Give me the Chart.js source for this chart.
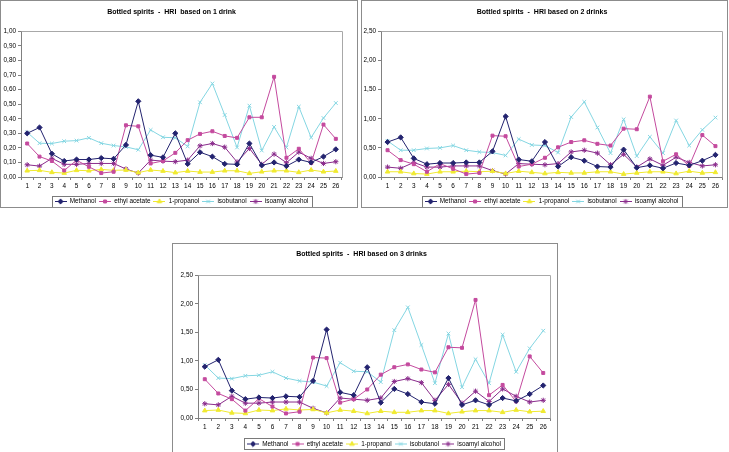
<!DOCTYPE html>
<html>
<head>
<meta charset="utf-8">
<script src="https://cdn.jsdelivr.net/npm/chart.js@4.4.1/dist/chart.umd.min.js"></script>
<style>
  body { margin: 0; background: #fff; width: 729px; height: 452px; position: relative; overflow: hidden; }
  .box { position: absolute; border: 1px solid #8c8c8c; box-sizing: border-box; background: #fff; }
  .box canvas { position: absolute; left: 0; top: 0; }
</style>
</head>
<body>
<div class="box" style="left:0px;top:0px;width:358px;height:208px"><canvas id="c1" width="356" height="206"></canvas></div>
<div class="box" style="left:361px;top:0px;width:367px;height:208px"><canvas id="c2" width="365" height="206"></canvas></div>
<div class="box" style="left:172px;top:243px;width:386px;height:212px"><canvas id="c3" width="384" height="210"></canvas></div>
<script>
const categories = ["1","2","3","4","5","6","7","8","9","10","11","12","13","14","15","16","17","18","19","20","21","22","23","24","25","26"];
const seriesNames = ["Methanol", "ethyl acetate", "1-propanol", "isobutanol", "isoamyl alcohol"];

// HRI based on 1 drink
const methanol1 = [0.30,0.34,0.16,0.11,0.12,0.12,0.13,0.125,0.22,0.52,0.15,0.135,0.30,0.09,0.17,0.14,0.09,0.087,0.23,0.08,0.10,0.075,0.12,0.10,0.14,0.19];
const ethylAcetate1 = [0.23,0.14,0.11,0.045,0.115,0.07,0.027,0.036,0.355,0.348,0.093,0.11,0.166,0.253,0.296,0.314,0.282,0.269,0.41,0.41,0.688,0.132,0.194,0.096,0.36,0.262];
const propanol1 = [0.043,0.046,0.032,0.027,0.046,0.043,0.052,0.046,0.048,0.03,0.048,0.041,0.03,0.041,0.034,0.034,0.043,0.043,0.025,0.036,0.043,0.043,0.032,0.048,0.036,0.041];
const isobutanol1 = [0.307,0.232,0.23,0.246,0.25,0.269,0.232,0.216,0.207,0.187,0.323,0.273,0.269,0.21,0.513,0.642,0.426,0.203,0.49,0.182,0.344,0.203,0.483,0.271,0.405,0.508];
const isoamyl1 = [0.084,0.075,0.128,0.087,0.087,0.093,0.093,0.093,0.055,0.027,0.116,0.109,0.105,0.116,0.214,0.23,0.205,0.103,0.196,0.087,0.157,0.098,0.171,0.128,0.093,0.105];

// HRI based on 2 drinks
const methanol2 = [0.60,0.68,0.32,0.22,0.24,0.24,0.25,0.25,0.44,1.04,0.30,0.27,0.60,0.18,0.34,0.28,0.18,0.17,0.47,0.16,0.20,0.15,0.24,0.20,0.28,0.38];
const ethylAcetate2 = [0.46,0.29,0.22,0.09,0.23,0.14,0.05,0.07,0.71,0.70,0.18,0.22,0.33,0.51,0.60,0.63,0.57,0.54,0.83,0.82,1.38,0.27,0.39,0.19,0.72,0.53];
const propanol2 = [0.09,0.09,0.06,0.05,0.09,0.09,0.10,0.09,0.10,0.06,0.10,0.08,0.06,0.08,0.07,0.07,0.09,0.09,0.05,0.07,0.09,0.09,0.06,0.10,0.07,0.08];
const isobutanol2 = [0.62,0.46,0.46,0.49,0.50,0.54,0.46,0.43,0.42,0.37,0.65,0.55,0.54,0.42,1.03,1.29,0.85,0.41,0.99,0.36,0.69,0.41,0.97,0.54,0.81,1.02];
const isoamyl2 = [0.17,0.15,0.25,0.17,0.17,0.19,0.19,0.19,0.11,0.05,0.23,0.22,0.21,0.23,0.43,0.46,0.41,0.21,0.39,0.17,0.31,0.20,0.34,0.25,0.19,0.21];

// HRI based on 3 drinks
const methanol3 = [0.90,1.02,0.48,0.33,0.36,0.35,0.38,0.37,0.65,1.55,0.45,0.40,0.89,0.27,0.51,0.42,0.28,0.25,0.70,0.23,0.31,0.23,0.35,0.30,0.42,0.57];
const ethylAcetate3 = [0.68,0.43,0.33,0.13,0.34,0.20,0.08,0.11,1.06,1.05,0.27,0.33,0.50,0.76,0.89,0.94,0.85,0.80,1.24,1.23,2.07,0.40,0.58,0.29,1.08,0.79];
const propanol3 = [0.13,0.14,0.09,0.08,0.14,0.13,0.16,0.14,0.15,0.09,0.14,0.12,0.08,0.12,0.10,0.10,0.13,0.13,0.08,0.11,0.13,0.13,0.10,0.14,0.11,0.12];
const isobutanol3 = [0.93,0.70,0.69,0.74,0.75,0.81,0.70,0.65,0.63,0.56,0.97,0.82,0.81,0.63,1.54,1.94,1.28,0.61,1.48,0.54,1.03,0.61,1.46,0.81,1.22,1.53];
const isoamyl3 = [0.25,0.23,0.38,0.26,0.26,0.28,0.28,0.28,0.17,0.09,0.35,0.33,0.31,0.35,0.64,0.69,0.62,0.31,0.59,0.26,0.47,0.29,0.51,0.38,0.28,0.31];

const colors = ["#23236f", "#c44a9e", "#f0ea30", "#84d6e2", "#8a2c8c"];
const markers = ["rectRot", "rect", "triangle", "crossRot", "star"];
const markerSize = [2.6, 2.1, 2.6, 2.6, 2.6];
const FONT = "'Liberation Sans', Arial, sans-serif";

// small line+marker pictures for the legend, Excel style
const legendIcons = colors.map((c, i) => {
  const cv = document.createElement("canvas");
  cv.width = 12;
  cv.height = 7;
  const g = cv.getContext("2d");
  g.strokeStyle = c;
  g.fillStyle = c;
  g.lineWidth = 1;
  g.beginPath();
  g.moveTo(0, 3.5);
  g.lineTo(12, 3.5);
  g.stroke();
  Chart.helpers.drawPoint(g, { pointStyle: markers[i], radius: markerSize[i], rotation: 0, borderWidth: 1 }, 6, 3.5);
  return cv;
});

// gray frame round plot area and box round legend
const frames = {
  id: "frames",
  beforeDatasetsDraw(chart) {
    const { ctx, chartArea: a } = chart;
    ctx.save();
    ctx.strokeStyle = "#a8a8a8";
    ctx.lineWidth = 1;
    ctx.beginPath();
    ctx.moveTo(Math.round(a.left) + 0.5, Math.round(a.top) + 0.5);
    ctx.lineTo(Math.round(a.right) + 0.5, Math.round(a.top) + 0.5);
    ctx.lineTo(Math.round(a.right) + 0.5, Math.round(a.bottom) + 0.5);
    ctx.stroke();
    ctx.restore();
  },
  afterDraw(chart) {
    const boxes = chart.legend.legendHitBoxes;
    if (!boxes || !boxes.length) return;
    const left = Math.min(...boxes.map((b) => b.left)) - 3;
    const right = Math.max(...boxes.map((b) => b.left + b.width)) + 3;
    const top = boxes[0].top - 2.5;
    const bottom = boxes[0].top + boxes[0].height + 2;
    const { ctx } = chart;
    ctx.save();
    ctx.strokeStyle = "#7a7a7a";
    ctx.lineWidth = 1;
    ctx.strokeRect(Math.round(left) + 0.5, Math.round(top) + 0.5, Math.round(right - left), Math.round(bottom - top));
    ctx.restore();
  },
};

function makeChart(id, title, series, yMax, step, geo) {
  const ctx = document.getElementById(id).getContext("2d");
  return new Chart(ctx, {
    type: "line",
    data: {
      labels: categories,
      datasets: series.map((vals, i) => ({
        label: seriesNames[i],
        data: vals,
        borderColor: colors[i],
        backgroundColor: colors[i],
        borderWidth: 1,
        pointStyle: markers[i],
        pointRadius: markerSize[i],
        pointBorderWidth: 1,
        tension: 0,
      })),
    },
    options: {
      responsive: false,
      animation: false,
      layout: { padding: { left: geo.padLeft, right: geo.padRight, top: 0, bottom: geo.padBottom } },
      plugins: {
        title: {
          display: true,
          text: title,
          color: "#000",
          font: { family: FONT, size: 7, weight: "bold" },
          padding: { top: geo.titleTop, bottom: geo.titleBottom },
        },
        legend: {
          position: "bottom",
          fullSize: false,
          labels: {
            color: "#000",
            font: { family: FONT, size: 6.4 },
            usePointStyle: true,
            pointStyleWidth: 12,
            boxHeight: 7,
            padding: 3,
            generateLabels(chart) {
              const items = Chart.defaults.plugins.legend.labels.generateLabels(chart);
              items.forEach((it, i) => { it.pointStyle = legendIcons[i]; });
              return items;
            },
          },
        },
        tooltip: { enabled: false },
      },
      scales: {
        x: {
          offset: true,
          grid: { display: true, offset: true, drawOnChartArea: false, drawTicks: true, tickLength: 3, color: "#808080" },
          border: { color: "#808080" },
          ticks: { color: "#000", font: { family: FONT, size: 6.4 }, padding: 2, maxRotation: 0, autoSkip: false },
          afterFit(s) { s.height = geo.xHeight; },
        },
        y: {
          min: 0,
          max: yMax,
          grid: { drawOnChartArea: false, drawTicks: true, tickLength: 3, color: "#808080" },
          border: { color: "#808080" },
          ticks: {
            stepSize: step,
            color: "#000",
            font: { family: FONT, size: 6.4 },
            padding: 2,
            callback: (v) => v.toFixed(2).replace(".", ","),
          },
          afterFit(s) { s.width = geo.yWidth; },
        },
      },
    },
    plugins: [frames],
  });
}

makeChart("c1", "Bottled spirits  -  HRI  based on 1 drink",
  [methanol1, ethylAcetate1, propanol1, isobutanol1, isoamyl1], 1, 0.1,
  { padLeft: 0, padRight: 15, padBottom: -7.7, titleTop: 7, titleBottom: 15, xHeight: 18.3, yWidth: 20 });

makeChart("c2", "Bottled spirits  -  HRI based on 2 drinks",
  [methanol2, ethylAcetate2, propanol2, isobutanol2, isoamyl2], 2.5, 0.5,
  { padLeft: 0, padRight: 5, padBottom: -7.7, titleTop: 7, titleBottom: 15, xHeight: 18.3, yWidth: 19 });

makeChart("c3", "Bottled spirits  -  HRI based on 3 drinks",
  [methanol3, ethylAcetate3, propanol3, isobutanol3, isoamyl3], 2.5, 0.5,
  { padLeft: 0, padRight: 7, padBottom: -3.2, titleTop: 6, titleBottom: 17, xHeight: 19.8, yWidth: 25 });
</script>
</body>
</html>
